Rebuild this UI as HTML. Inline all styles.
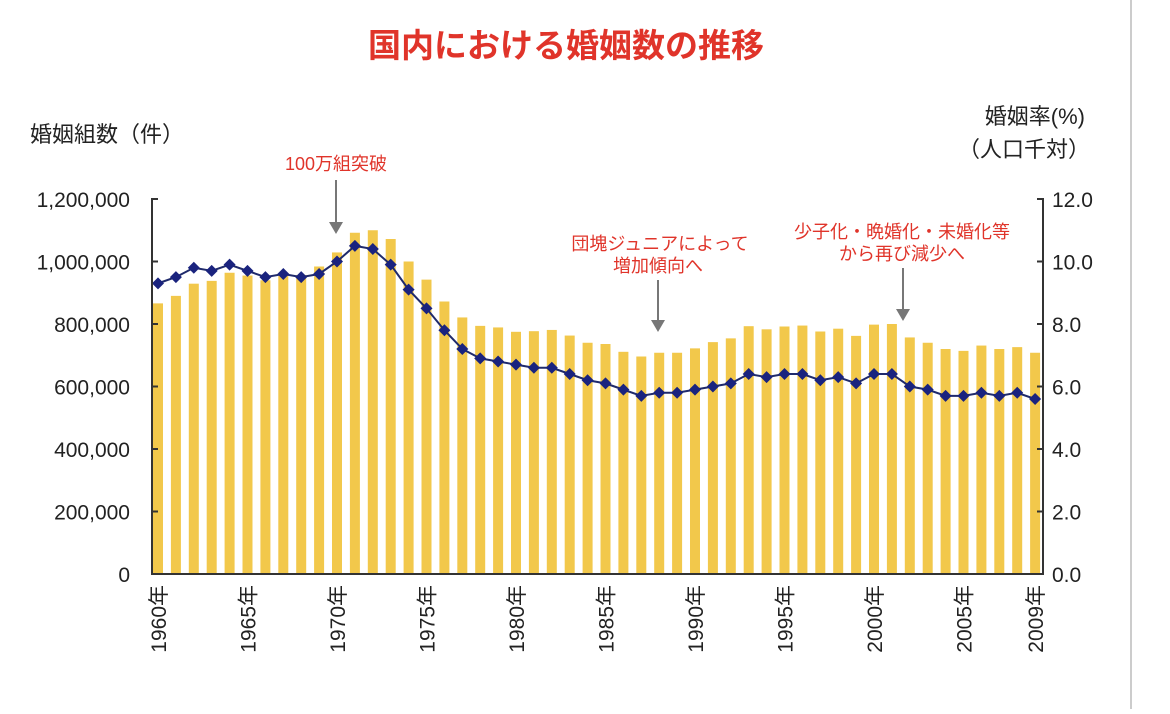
<!DOCTYPE html>
<html><head><meta charset="utf-8"><style>
body{margin:0;background:#fff;}
svg text{font-family:"Liberation Sans","Noto Sans CJK JP",sans-serif;}
</style></head><body>
<svg id="s" width="1170" height="709" xmlns="http://www.w3.org/2000/svg">
<rect width="1170" height="709" fill="#fff"/>
<line x1="1131" y1="0" x2="1131" y2="709" stroke="#ccc" stroke-width="2"/>
<text x="566" y="57" text-anchor="middle" font-size="33" font-weight="bold" fill="#e0342a">国内における婚姻数の推移</text>
<text x="30" y="142" font-size="22" fill="#222">婚姻組数（件）</text>
<text x="1085" y="124" text-anchor="end" font-size="22" fill="#222">婚姻率(%)</text>
<text x="1090" y="157" text-anchor="end" font-size="22" fill="#222">（人口千対）</text>
<g id="g"></g>
</svg>
<script>
var b=[866,890,929,938,964,955,940,954,957,984,1029,1092,1100,1072,1000,942,872,821,794,789,775,777,781,763,740,736,711,696,708,708,722,742,754,793,783,792,795,776,785,762,798,800,757,740,720,714,731,720,726,708];
var r=[9.3,9.5,9.8,9.7,9.9,9.7,9.5,9.6,9.5,9.6,10.0,10.5,10.4,9.9,9.1,8.5,7.8,7.2,6.9,6.8,6.7,6.6,6.6,6.4,6.2,6.1,5.9,5.7,5.8,5.8,5.9,6.0,6.1,6.4,6.3,6.4,6.4,6.2,6.3,6.1,6.4,6.4,6.0,5.9,5.7,5.7,5.8,5.7,5.8,5.6];
var h='',X=function(i){return 158+i*17.9},Y0=574,S=375;
for(var i=0;i<50;i++){var y=Y0-b[i]/1200*S;h+='<rect x="'+(X(i)-5)+'" y="'+y+'" width="10" height="'+(Y0-y)+'" fill="#f2c84b"/>';}
var p='';for(i=0;i<50;i++)p+=(i?'L':'M')+X(i)+','+(Y0-r[i]/12*S);
h+='<path d="'+p+'" fill="none" stroke="#1f2a6b" stroke-width="2"/>';
for(i=0;i<50;i++){var x=X(i),y=Y0-r[i]/12*S;h+='<path d="M'+x+','+(y-6)+'L'+(x+6)+','+y+'L'+x+','+(y+6)+'L'+(x-6)+','+y+'Z" fill="#1a237e"/>';}
h+='<path d="M158,199H152V574H1043V199H1037" fill="none" stroke="#333" stroke-width="2"/>';
var L=['0','200,000','400,000','600,000','800,000','1,000,000','1,200,000'];
for(i=0;i<7;i++){var y=Y0-i*62.5;h+='<line x1="152" x2="158" y1="'+y+'" y2="'+y+'" stroke="#333" stroke-width="2"/><line x1="1037" x2="1043" y1="'+y+'" y2="'+y+'" stroke="#333" stroke-width="2"/>';
h+='<text x="130" y="'+(y+8)+'" text-anchor="end" font-size="21" fill="#222">'+L[i]+'</text>';
h+='<text x="1052" y="'+(y+8)+'" font-size="21" fill="#222">'+(i*2).toFixed(1)+'</text>';}
var yr=[0,5,10,15,20,25,30,35,40,45,49];
for(var k=0;k<yr.length;k++){var x=X(yr[k])+8;h+='<text transform="translate('+x+',585) rotate(-90)" text-anchor="end" font-size="21" fill="#222">'+(1960+yr[k])+'年</text>';}
function arr(x,y1,y2){return '<line x1="'+x+'" x2="'+x+'" y1="'+y1+'" y2="'+(y2-10)+'" stroke="#777" stroke-width="2"/><path d="M'+(x-7)+','+(y2-12)+'L'+(x+7)+','+(y2-12)+'L'+x+','+y2+'Z" fill="#777"/>';}
h+='<text x="336" y="170" text-anchor="middle" font-size="18" fill="#e0342a">100万組突破</text>'+arr(336,180,234);
h+='<text x="660" y="250" text-anchor="middle" font-size="18" fill="#e0342a">団塊ジュニアによって</text><text x="658" y="272" text-anchor="middle" font-size="18" fill="#e0342a">増加傾向へ</text>'+arr(658,280,332);
h+='<text x="902" y="238" text-anchor="middle" font-size="18" fill="#e0342a">少子化・晩婚化・未婚化等</text><text x="902" y="260" text-anchor="middle" font-size="18" fill="#e0342a">から再び減少へ</text>'+arr(903,268,321);
document.getElementById('g').innerHTML=h;
</script>
</body></html>
